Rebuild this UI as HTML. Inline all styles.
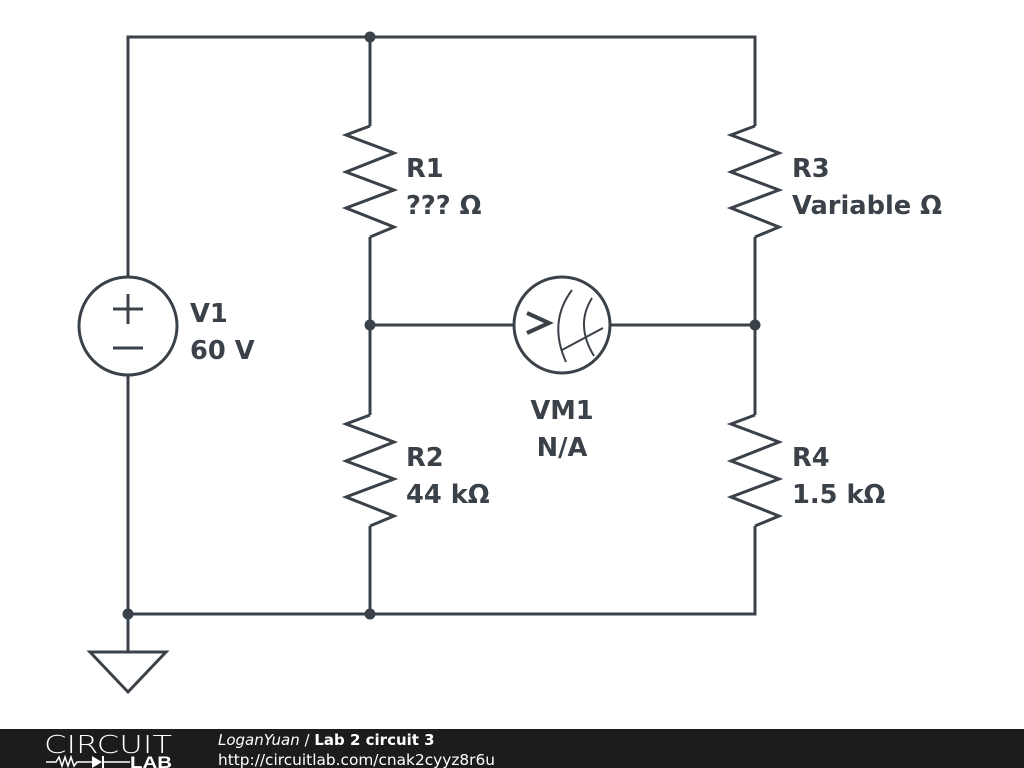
<!DOCTYPE html>
<html><head><style>
html,body{margin:0;padding:0;background:#fff;width:1024px;height:768px;overflow:hidden}
</style></head><body>
<svg width="1024" height="768" viewBox="0 0 1024 768" xmlns="http://www.w3.org/2000/svg">
<rect width="1024" height="768" fill="#fff"/>
<g stroke="#3b4148" stroke-width="3" fill="none" stroke-linejoin="miter">
<polyline points="128,277 128,37 755,37 755,126"/>
<line x1="370" y1="37" x2="370" y2="126"/>
<line x1="370" y1="237" x2="370" y2="415"/>
<line x1="755" y1="237" x2="755" y2="415"/>
<line x1="370" y1="325" x2="514" y2="325"/>
<line x1="610" y1="325" x2="755" y2="325"/>
<line x1="128" y1="375" x2="128" y2="652"/>
<polyline points="370,526 370,614 755,614 755,526"/>
<line x1="128" y1="614" x2="370" y2="614"/>
<polyline points="370,126 346,135 394,153 346,172 394,190 346,208 394,227 370,237"/>
<polyline points="755,126 731,135 779,153 731,172 779,190 731,208 779,227 755,237"/>
<polyline points="370,415 346,424 394,442 346,461 394,479 346,497 394,516 370,526"/>
<polyline points="755,415 731,424 779,442 731,461 779,479 731,497 779,516 755,526"/>
<circle cx="128" cy="326" r="49"/>
<line x1="113" y1="309" x2="143" y2="309"/>
<line x1="128" y1="294" x2="128" y2="324"/>
<line x1="113" y1="348" x2="143" y2="348"/>
<circle cx="562" cy="325" r="48"/>
<polyline points="527,313 549,323 527,333" stroke-width="4"/>
<path d="M572,290 Q548,322 566,362" stroke-width="2"/>
<path d="M592,298 Q575,325 594,356" stroke-width="2"/>
<line x1="562" y1="350" x2="603" y2="328" stroke-width="2"/>
<polygon points="90,652 166,652 128,692"/>
</g>
<g fill="#3b4148">
<circle cx="370" cy="37" r="5.5"/>
<circle cx="370" cy="325" r="5.5"/>
<circle cx="755" cy="325" r="5.5"/>
<circle cx="128" cy="614" r="5.5"/>
<circle cx="370" cy="614" r="5.5"/>
</g>
<g font-family="DejaVu Sans, sans-serif" font-weight="bold" font-size="25.7" fill="#3b4148">
<text x="406" y="177">R1</text><text x="406" y="214">??? Ω</text>
<text x="792" y="177">R3</text><text x="792" y="214">Variable Ω</text>
<text x="190" y="322">V1</text><text x="190" y="359">60 V</text>
<text x="406" y="466">R2</text><text x="406" y="503">44 kΩ</text>
<text x="792" y="466">R4</text><text x="792" y="503">1.5 kΩ</text>
<text x="562" y="419" text-anchor="middle">VM1</text><text x="562" y="456" text-anchor="middle">N/A</text>
</g>
<rect x="0" y="729" width="1024" height="39" fill="#1c1c1c"/>
<text x="44" y="753" font-family="DejaVu Sans, sans-serif" font-weight="200" font-size="25" fill="#fff" textLength="128" lengthAdjust="spacingAndGlyphs">CIRCUIT</text>
<polyline points="46,762 56,762 59,757 62,766 65,757 68,766 71,757 74,766 77,762 92,762" stroke="#fff" stroke-width="1.5" fill="none"/>
<polygon points="92,756 92,768 102,762" fill="#fff"/>
<line x1="103" y1="756" x2="103" y2="768" stroke="#fff" stroke-width="2"/>
<line x1="103" y1="762" x2="130" y2="762" stroke="#fff" stroke-width="1.5"/>
<text x="130" y="768" font-family="Liberation Sans, sans-serif" font-weight="bold" font-size="17" fill="#fff" textLength="42" lengthAdjust="spacingAndGlyphs">LAB</text>
<text x="218" y="745" font-family="DejaVu Sans, sans-serif" font-size="15" fill="#fff"><tspan font-style="italic">LoganYuan</tspan> / <tspan font-weight="bold">Lab 2 circuit 3</tspan></text>
<text x="218" y="765" font-family="DejaVu Sans, sans-serif" font-size="15" fill="#fff" textLength="277" lengthAdjust="spacingAndGlyphs">http://circuitlab.com/cnak2cyyz8r6u</text>
</svg>
</body></html>
